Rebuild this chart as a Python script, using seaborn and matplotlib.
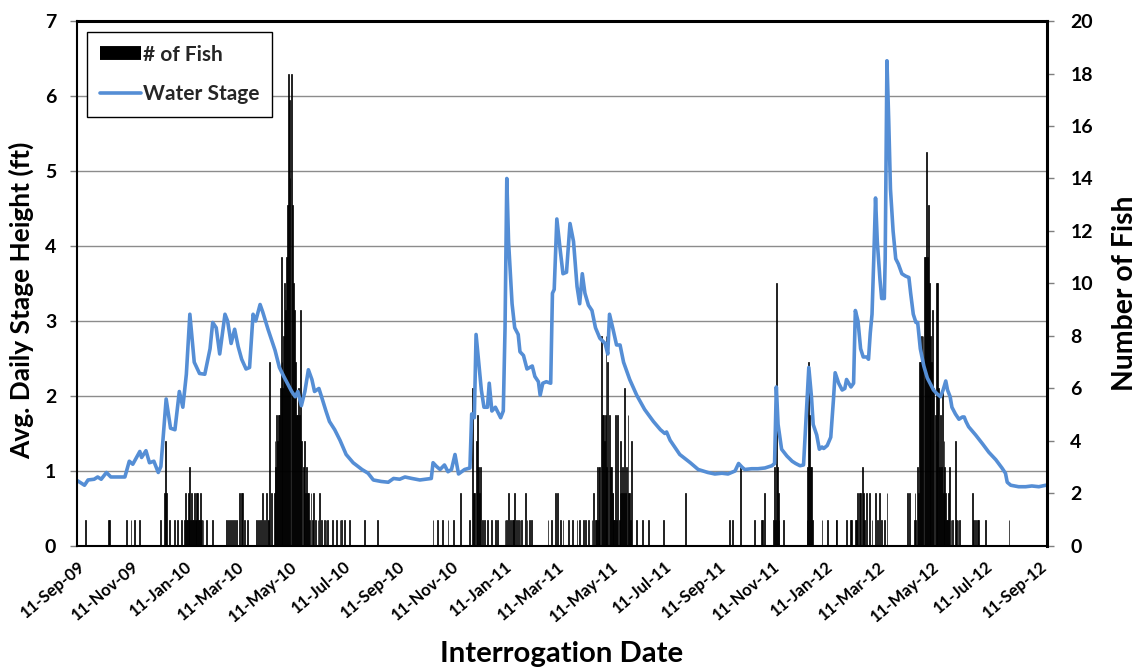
import pandas as pd
import matplotlib
matplotlib.use("Agg")
import matplotlib.pyplot as plt
from matplotlib.lines import Line2D
from matplotlib.ticker import FixedLocator
import seaborn as sns

# Day 0 of the record
START = pd.Timestamp("2009-09-11")

# Average daily stage height (ft), sampled at days since START
stage_day = [
    0, 8, 12, 19, 23, 27, 33, 38, 54, 59, 63, 71, 73, 78, 82, 87, 92, 95,
    101, 106, 111, 116, 120, 124, 128, 133, 139, 145, 151, 154, 158, 162,
    168, 171, 175, 179, 183, 187, 192, 196, 200, 203, 208, 211, 217, 225,
    230, 235, 240, 244, 248, 251, 255, 259, 263, 267, 270, 275, 278, 283,
    287, 293, 299, 306, 314, 324, 331, 337, 346, 354, 360, 367, 373, 381,
    390, 403, 405, 409, 413, 418, 422, 426, 430, 434, 441, 447, 449, 452,
    454, 457, 460, 463, 467, 469, 472, 476, 479, 482, 485, 487, 489, 491,
    495, 498, 502, 504, 508, 512, 518, 521, 525, 527, 530, 534, 539, 541,
    543, 546, 550, 553, 557, 561, 565, 569, 572, 575, 578, 582, 586, 590,
    595, 601, 604, 606, 610, 614, 618, 622, 629, 637, 646, 656, 664, 669,
    671, 675, 686, 698, 707, 718, 726, 734, 741, 749, 753, 757, 760, 768,
    775, 783, 791, 794, 796, 798, 802, 808, 814, 818, 823, 827, 829, 833,
    836, 838, 842, 845, 848, 850, 854, 858, 861, 863, 867, 871, 874, 876,
    881, 884, 886, 889, 892, 895, 899, 901, 903, 905, 907, 909, 911, 914,
    916, 919, 920, 922, 924, 926, 929, 932, 935, 939, 943, 947, 949, 952,
    955, 957, 960, 964, 968, 972, 975, 979, 983, 986, 989, 991, 994, 996,
    1000, 1004, 1008, 1010, 1012, 1015, 1023, 1031, 1038, 1046, 1053, 1057,
    1059, 1063, 1072, 1080, 1087, 1095, 1103,
]
stage_ft = [
    0.87, 0.81, 0.88, 0.89, 0.92, 0.89, 0.98, 0.92, 0.92, 1.13, 1.09, 1.26,
    1.18, 1.27, 1.11, 1.13, 0.98, 1.06,
    1.96, 1.57, 1.55, 2.06, 1.85, 2.29, 3.09, 2.45, 2.30, 2.29, 2.63, 2.98,
    2.91, 2.56, 3.09, 3.00, 2.70, 2.89, 2.66, 2.49, 2.36, 2.38, 3.09, 3.00,
    3.22, 3.12, 2.89, 2.61, 2.38, 2.26, 2.15, 2.06, 1.99, 2.06, 1.87, 2.06,
    2.35, 2.22, 2.06, 2.10, 1.99, 1.80, 1.66, 1.55, 1.41, 1.22, 1.11, 1.02,
    0.97, 0.88, 0.86, 0.85, 0.90, 0.89, 0.92, 0.90, 0.88, 0.90, 1.11, 1.06,
    1.02, 1.08, 0.99, 1.02, 1.22, 0.96, 1.02, 1.04, 1.76, 1.71, 2.82, 2.45,
    2.08, 1.85, 1.85, 2.17, 1.80, 1.85, 1.78, 1.71, 1.80, 2.91, 4.90, 4.06,
    3.23, 2.91, 2.82, 2.59, 2.54, 2.36, 2.40, 2.26, 2.19, 2.01, 2.17, 2.19,
    2.17, 3.37, 3.42, 4.36, 3.93, 3.63, 3.65, 4.30, 4.06, 3.46, 3.23, 3.63,
    3.37, 3.21, 3.14, 2.91, 2.77, 2.70, 2.56, 3.09, 2.89, 2.68, 2.68, 2.45,
    2.22, 2.01, 1.82, 1.66, 1.55, 1.50, 1.52, 1.41, 1.22, 1.11, 1.02, 0.98,
    0.96, 0.97, 0.96, 1.00, 1.10, 1.05, 1.02, 1.03, 1.03, 1.04, 1.07, 1.10,
    2.12, 1.62, 1.29, 1.20, 1.13, 1.10, 1.07, 1.08, 1.52, 2.38, 1.99, 1.62,
    1.48, 1.29, 1.32, 1.30, 1.34, 1.45, 1.94, 2.31, 2.17, 2.08, 2.10, 2.22,
    2.12, 2.17, 3.14, 3.00, 2.63, 2.52, 2.52, 2.49, 2.84, 3.09, 3.83, 4.64,
    4.06, 3.56, 3.30, 3.30, 3.83, 6.47, 5.68, 4.76, 4.20, 3.83, 3.76, 3.63,
    3.60, 3.58, 3.37, 3.09, 2.98, 2.98, 2.63, 2.40, 2.24, 2.15, 2.08, 2.03,
    1.99, 2.08, 2.20, 2.08, 1.99, 1.85, 1.76, 1.69, 1.72, 1.72, 1.66, 1.59,
    1.48, 1.36, 1.25, 1.15, 1.04, 0.97, 0.85, 0.81, 0.79, 0.79, 0.80, 0.79,
    0.81,
]

# Number of fish detected per day (days since START)
fish_day = [
    9, 35, 36, 56, 61, 65, 71, 95, 99, 100, 101, 105, 111, 114, 118,
    122, 123, 124, 125, 126, 127, 128, 129, 130, 131, 132, 133, 134, 135,
    136, 137, 138, 139, 140, 141, 143, 147, 154, 170, 172, 174, 177, 179,
    181, 185, 187, 188, 190, 194, 204, 206, 208, 211, 213, 215, 217, 218,
    219, 221, 224, 225, 226, 227, 228, 229, 230, 231, 232, 233, 234, 235,
    236, 237, 238, 239, 240, 241, 242, 244, 245, 246, 247, 248, 249, 251,
    252, 253, 254, 255, 257, 258, 259, 260, 261, 262, 263, 264, 266, 268,
    269, 271, 274, 276, 278, 281, 283, 285, 290, 295, 299, 301, 304, 310,
    327, 342, 405, 410, 416, 422, 428, 436, 447,
    450, 451, 452, 454, 455, 456, 457, 458, 459, 461, 464, 467, 472, 476,
    478, 487, 489, 491, 493, 495, 497, 498, 500, 502, 504, 506, 510, 512,
    515, 517, 536, 540, 544, 547, 550, 553, 559, 564, 569, 572, 576, 579,
    582, 586, 588, 590, 591, 592, 593, 594, 595, 597, 598, 599, 600, 601,
    602, 603, 604, 606, 607, 608, 609, 610, 611, 612, 613, 614, 615, 617,
    618, 619, 620, 621, 622, 623, 624, 625, 627, 628, 629, 630, 631, 637,
    644, 650, 667, 693, 743, 746, 755, 771, 779, 780, 783, 793, 794, 795,
    796, 797, 798, 799, 804, 831, 832, 833, 834, 835, 836, 837, 848, 854,
    864, 865, 876, 880, 882, 886, 887, 888, 891, 892, 894, 895, 896, 899,
    902, 905, 909, 911, 914, 916, 919, 922, 945, 948, 953, 954, 955, 957,
    958, 959, 960, 961, 962, 963, 965, 966, 967, 968, 969, 970, 971, 972,
    973, 974, 975, 977, 978, 979, 980, 981, 982, 983, 984, 985, 986, 987,
    988, 989, 990, 991, 992, 993, 995, 997, 1000, 1001, 1003, 1005, 1019,
    1021, 1023, 1025, 1026, 1034, 1061,
]
fish_count = [
    1, 1, 1, 1, 1, 1, 1, 1, 2, 4, 2, 1, 1, 1, 1,
    1, 2, 1, 1, 2, 1, 3, 1, 2, 1, 1, 2, 1, 1,
    2, 2, 1, 1, 2, 1, 1, 1, 1, 1, 1, 1, 1, 1,
    1, 2, 2, 2, 1, 1, 1, 1, 1, 2, 1, 2, 1, 1,
    7, 2, 2, 4, 3, 5, 4, 5, 5, 6, 11, 7, 6, 8,
    10, 9, 11, 13, 18, 17, 14, 18, 13, 10, 9, 7, 5, 5,
    6, 5, 9, 4, 3, 3, 4, 2, 3, 2, 2, 1, 2, 1,
    2, 1, 1, 2, 1, 1, 1, 1, 1, 1, 1, 1, 1, 1,
    1, 1, 1, 1, 1, 1, 1, 2, 1,
    6, 2, 2, 4, 2, 5, 3, 2, 3, 1, 1, 1, 1, 1,
    1, 1, 1, 2, 1, 1, 1, 2, 1, 1, 1, 1, 2, 1,
    1, 1, 1, 1, 2, 2, 1, 1, 1, 1, 1, 1, 1, 1,
    1, 1, 2, 1, 1, 3, 1, 3, 3, 8, 5, 5, 4, 5,
    8, 3, 7, 5, 3, 3, 2, 2, 1, 1, 5, 1, 5, 1,
    2, 4, 2, 3, 2, 6, 2, 3, 5, 2, 2, 1, 4, 1,
    1, 1, 1, 2, 1, 1, 3, 1, 1, 1, 2, 1, 3, 1,
    10, 3, 2, 1, 1, 1, 3, 7, 5, 3, 3, 1, 1, 1,
    1, 1, 1, 1, 1, 1, 1, 2, 2, 2, 3, 2, 1, 2,
    2, 1, 2, 1, 2, 1, 1, 2, 2, 2, 1, 2, 1, 3,
    2, 7, 7, 8, 7, 8, 11, 11, 15, 11, 13, 10, 7, 8,
    7, 9, 6, 5, 10, 4, 10, 6, 3, 5, 3, 6, 2, 4,
    3, 2, 1, 1, 2, 3, 1, 1, 4, 1, 1, 1, 2,
    1, 1, 1, 1, 1, 1,
]

date_ticks = [
    "11-Sep-09", "11-Nov-09", "11-Jan-10", "11-Mar-10", "11-May-10",
    "11-Jul-10", "11-Sep-10", "11-Nov-10", "11-Jan-11", "11-Mar-11",
    "11-May-11", "11-Jul-11", "11-Sep-11", "11-Nov-11", "11-Jan-12",
    "11-Mar-12", "11-May-12", "11-Jul-12", "11-Sep-12",
]
stage_ticks = [0, 1, 2, 3, 4, 5, 6, 7]
fish_ticks = [0, 2, 4, 6, 8, 10, 12, 14, 16, 18, 20]

LINE_BLUE = "#558ED5"
GRID_GREY = "#8C8C8C"

sns.set_theme(style="white")
plt.rcParams["font.family"] = ["Lato", "DejaVu Sans"]
plt.rcParams["font.weight"] = "bold"

stage = pd.DataFrame({
    "date": START + pd.to_timedelta(stage_day, unit="D"),
    "ft": stage_ft,
})
fish = pd.DataFrame({
    "date": START + pd.to_timedelta(fish_day, unit="D"),
    "n": fish_count,
})
tick_dates = pd.to_datetime(date_ticks, format="%d-%b-%y")

FIG_W, FIG_H = 1138, 669
AX_RECT = [0.0677, 0.1839, 0.8521, 0.7847]

fig = plt.figure(figsize=(FIG_W / 100, FIG_H / 100), dpi=100)
ax_fish = fig.add_axes(AX_RECT)
ax_stage = ax_fish.twinx()

# Daily fish counts (right axis), drawn underneath the stage line
ax_fish.bar(fish["date"], fish["n"], width=1.0, color="black",
            edgecolor="black", linewidth=0.5, align="center")
ax_fish.set_ylim(0, 20)
ax_fish.yaxis.tick_right()
ax_fish.yaxis.set_label_position("right")
ax_fish.set_yticks(fish_ticks)

# Horizontal grid at each whole foot of the stage axis
ax_fish.yaxis.set_minor_locator(
    FixedLocator([v * 20 / 7 for v in stage_ticks[1:-1]]))
ax_fish.grid(which="minor", axis="y", color=GRID_GREY, linewidth=1.0)
ax_fish.grid(which="major", visible=False)
ax_fish.set_axisbelow(True)
ax_fish.tick_params(axis="y", which="minor", length=0)

# Water stage (left axis)
sns.lineplot(data=stage, x="date", y="ft", ax=ax_stage, color=LINE_BLUE,
             linewidth=2.6, legend=False)
ax_stage.set_ylim(0, 7)
ax_stage.yaxis.tick_left()
ax_stage.yaxis.set_label_position("left")
ax_stage.set_yticks(stage_ticks)
ax_stage.grid(False)

ax_fish.set_xlim(START - pd.Timedelta(days=0.5), START + pd.Timedelta(days=1104))
ax_fish.set_xticks(tick_dates)
ax_fish.set_xticklabels(date_ticks, rotation=40, ha="right",
                        rotation_mode="anchor", fontsize=12, fontweight="bold")

for ax in (ax_fish, ax_stage):
    ax.tick_params(axis="both", which="major", direction="out", length=5,
                   width=1, color="#7F7F7F", labelcolor="black")
    for sp in ax.spines.values():
        sp.set_visible(False)
ax_stage.tick_params(axis="y", labelsize=14, pad=10)
ax_fish.tick_params(axis="y", labelsize=14, pad=12)
ax_fish.tick_params(axis="x", labelsize=12, pad=4)

for name, lw in (("left", 1.5), ("bottom", 1.5), ("top", 2.2), ("right", 2.2)):
    ax_stage.spines[name].set_visible(True)
    ax_stage.spines[name].set_color("black")
    ax_stage.spines[name].set_linewidth(lw)

for lbl in ax_fish.get_yticklabels() + ax_stage.get_yticklabels():
    lbl.set_fontweight("bold")

ax_stage.set_ylabel("Avg. Daily Stage Height (ft)", fontsize=18,
                    fontweight="bold", color="black")
ax_stage.yaxis.set_label_coords(-0.043, 0.47)
ax_fish.set_ylabel("Number of Fish", fontsize=20, fontweight="bold",
                   color="black")
ax_fish.yaxis.set_label_coords(1.066, 0.48)
ax_fish.set_xlabel("Interrogation Date", fontsize=21, fontweight="bold",
                   color="black")
ax_fish.xaxis.set_label_coords(0.5, -0.2)
ax_stage.set_xlabel("")


def fit_label(axis, length_px, center_px, vertical):
    """Scale an axis title to a given length (px) and centre it on a point."""
    label = axis.label
    renderer = fig.canvas.get_renderer()
    fig.canvas.draw()
    bb = label.get_window_extent(renderer)
    cur = bb.height if vertical else bb.width
    label.set_fontsize(label.get_fontsize() * length_px / cur)
    fig.canvas.draw()
    bb = label.get_window_extent(renderer)
    ax_w = AX_RECT[2] * FIG_W
    ax_h = AX_RECT[3] * FIG_H
    x0, y0 = label.get_position()
    dx = (center_px[0] - (bb.x0 + bb.x1) / 2) / ax_w
    dy = (center_px[1] - (bb.y0 + bb.y1) / 2) / ax_h
    axis.set_label_coords(x0 + dx, y0 + dy)


# Title extents in figure pixels (origin bottom-left)
fit_label(ax_stage.yaxis, 318, (21, FIG_H - 300), vertical=True)
fit_label(ax_fish.yaxis, 196, (1125, FIG_H - 293), vertical=True)
fit_label(ax_fish.xaxis, 243, (561.5, FIG_H - 654), vertical=False)

handles = [
    Line2D([], [], color="black", linewidth=10, solid_capstyle="butt",
           label="# of Fish"),
    Line2D([], [], color=LINE_BLUE, linewidth=2.6, label="Water Stage"),
]
leg = ax_stage.legend(handles=handles, loc="upper left",
                      bbox_to_anchor=(0.0103, 0.979), frameon=True,
                      fancybox=False, framealpha=1, edgecolor="black",
                      fontsize=15, handlelength=2.0,
                      handletextpad=0.1, labelspacing=0.95, borderpad=0.6,
                      borderaxespad=0)
leg.set_zorder(10)
leg.get_frame().set_linewidth(1.0)
for t in leg.get_texts():
    t.set_fontweight("bold")

fig.savefig("out.png", dpi=100)
